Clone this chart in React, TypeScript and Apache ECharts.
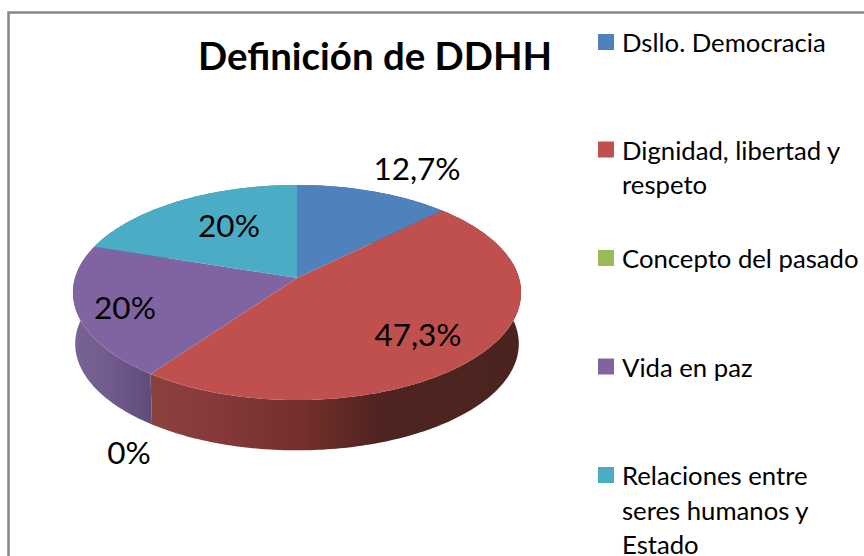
import React, { useEffect, useRef } from "react";
import * as echarts from "echarts";

const categories = [
  "Dsllo. Democracia",
  "Dignidad, libertad y respeto",
  "Concepto del pasado",
  "Vida en paz",
  "Relaciones entre seres humanos y Estado",
];
const values = [12.7, 47.3, 0, 20, 20];
const legendText = [
  "Dsllo. Democracia",
  "Dignidad, libertad y\nrespeto",
  "Concepto del pasado",
  "Vida en paz",
  "Relaciones entre\nseres humanos y\nEstado",
];
const topColors = ["#4f81bd", "#c0504d", "#9bbb59", "#8064a2", "#4bacc6"];
const titleText = "Definición de DDHH";

// layout of the drawing, kept apart from the data
const FONT = "Lato";
const LABEL_POS = [[417, 168], [418, 334], [129, 452], [125, 307], [229, 225]];
const LEGEND_ICON_CENTER = [42, 149.5, 258, 366.5, 475];
const LINE_H = 34.7;
const CX = 297, CY = 278, A = 222, B = 105.6, K = 0.135;
const BOTTOM_CY = 329.5, BOTTOM_SCALE = 0.99;

const sideStops: [number, string][][] = [
  [[0, "#3c618e"], [1, "#3c618e"]],
  [[0, "#8c403e"], [0.18, "#86393a"], [0.4, "#752f2c"], [0.62, "#4f2420"], [1, "#4a231f"]],
  [[0, "#9bbb59"], [1, "#9bbb59"]],
  [[0, "#7a6296"], [0.5, "#705a8c"], [1, "#5f4b7a"]],
  [[0, "#38819a"], [1, "#38819a"]],
];
const sideRange = [[297, 440], [150, 520], [100, 100], [74, 152], [94, 297]];

const total = values.reduce((a, b) => a + b, 0);
const starts = values.map((_, i) => values.slice(0, i).reduce((a, b) => a + b, 0));

function project(frac: number, cy: number, s: number): [number, number] {
  const t = frac * 2 * Math.PI;
  const u = Math.sin(t);
  const v = -Math.cos(t);
  const w = 1 / (1 - K * v);
  return [CX + s * A * u * w, cy + s * B * v * w];
}

function arc(from: number, to: number, cy: number, s: number) {
  const n = Math.max(2, Math.ceil((to - from) * 360));
  const pts: [number, number][] = [];
  for (let i = 0; i <= n; i++) pts.push(project(from + ((to - from) * i) / n, cy, s));
  return pts;
}

function makeRenderItem(i: number) {
  return (_p: any, api: any) => {
    const v = api.value(0);
    const from = starts[i] / total;
    const to = from + v / total;
    const children: any[] = [];
    if (v > 0) {
      const top = arc(from, to, CY, 1);
      const bottom = arc(from, to, BOTTOM_CY, BOTTOM_SCALE).reverse();
      children.push({
        type: "polygon",
        z2: 1,
        shape: { points: top.concat(bottom) },
        style: {
          fill: new echarts.graphic.LinearGradient(
            sideRange[i][0], 0, sideRange[i][1], 0,
            sideStops[i].map(([offset, color]) => ({ offset, color })),
            true
          ),
        },
      });
      children.push({
        type: "polygon",
        z2: 10,
        shape: { points: [[CX, CY] as [number, number]].concat(top) },
        style: { fill: topColors[i] },
      });
    }
    children.push({
      type: "text",
      z2: 20,
      style: {
        text: String(v).replace(".", ",") + "%",
        x: LABEL_POS[i][0],
        y: LABEL_POS[i][1],
        align: "center",
        verticalAlign: "middle",
        fontFamily: FONT,
        fontSize: 31.5,
        fill: "#000",
      },
    });
    return { type: "group", children };
  };
}

export default function App() {
  const ref = useRef<HTMLDivElement>(null);
  useEffect(() => {
    document.body.style.margin = "0";
    const chart = echarts.init(ref.current!, null, { renderer: "svg" });
    chart.setOption({
      animation: false,
      backgroundColor: "#fff",
      color: topColors,
      title: {
        text: titleText,
        left: 198,
        top: 36,
        padding: 0,
        textStyle: { fontFamily: FONT, fontWeight: "bold", fontSize: 38.4, color: "#000" },
      },
      legend: categories.map((name, i) => {
        const lines = legendText[i].split("\n").length;
        // leading blank lines keep the first text line level with the swatch
        const blank = "\n".repeat(lines - 1);
        return {
          data: [name],
          left: 598,
          top: LEGEND_ICON_CENTER[i] - ((2 * lines - 1) * LINE_H) / 2,
          orient: "vertical",
          padding: 0,
          itemWidth: 16,
          itemHeight: 16,
          selectedMode: false,
          icon: "rect",
          formatter: () => blank + legendText[i],
          textStyle: {
            fontFamily: FONT,
            fontSize: 25.7,
            lineHeight: LINE_H,
            color: "#000",
            padding: [0, 0, 0, 3],
          },
        };
      }),
      series: categories.map((name, i) => ({
        type: "custom",
        name,
        coordinateSystem: "none",
        silent: true,
        data: [[values[i]]],
        renderItem: makeRenderItem(i),
      })),
      graphic: [
        {
          type: "polyline",
          silent: true,
          shape: { points: [[8.5, 556], [8.5, 12.5], [864, 12.5]] },
          style: { stroke: "#868686", lineWidth: 2.5, fill: "none" },
        },
      ],
    });
    return () => chart.dispose();
  }, []);
  return <div ref={ref} style={{ width: 864, height: 556 }} />;
}
